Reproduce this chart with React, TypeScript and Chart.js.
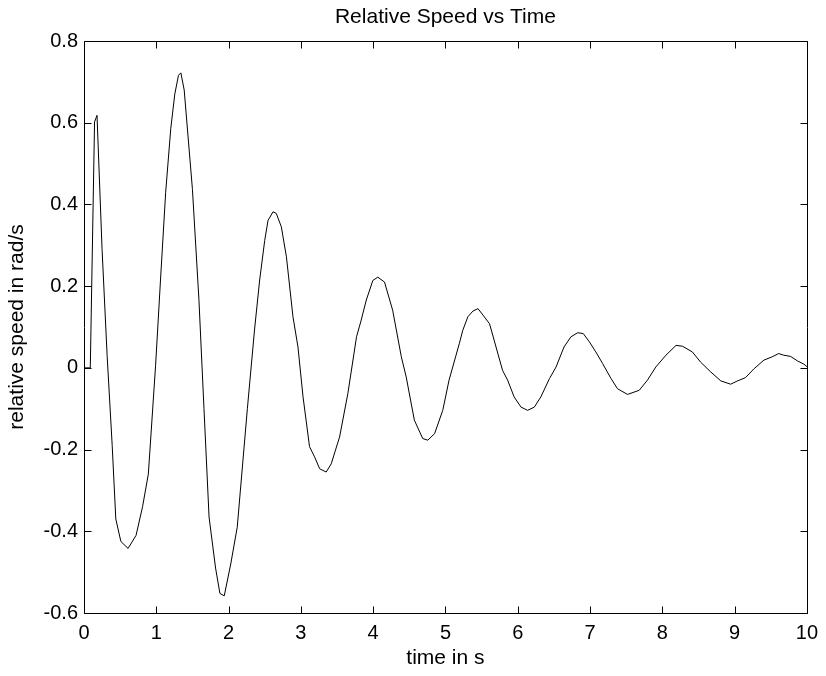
import React, { useEffect, useRef } from "react";
import { Chart, registerables } from "chart.js";

Chart.register(...registerables);

const titleText = "Relative Speed vs Time";
const xAxisTitle = "time in s";
const yAxisTitle = "relative speed in rad/s";

const xTickValues = [0, 1, 2, 3, 4, 5, 6, 7, 8, 9, 10];
const xTickLabels = ["0", "1", "2", "3", "4", "5", "6", "7", "8", "9", "10"];
const yTickValues = [-0.6, -0.4, -0.2, 0, 0.2, 0.4, 0.6, 0.8];
const yTickLabels = ["-0.6", "-0.4", "-0.2", "0", "0.2", "0.4", "0.6", "0.8"];

const time = [
  0, 0.087, 0.146, 0.18, 0.25, 0.32, 0.39, 0.44, 0.51, 0.61,
  0.72, 0.81, 0.89, 0.99, 1.06, 1.13, 1.2, 1.256, 1.307, 1.34,
  1.386, 1.5, 1.59, 1.66, 1.73, 1.82, 1.88, 1.94, 2.03, 2.12,
  2.26, 2.36, 2.43, 2.5, 2.546, 2.615, 2.66, 2.73, 2.8, 2.891,
  2.96, 3.03, 3.12, 3.19, 3.26, 3.35, 3.42, 3.536, 3.65, 3.77,
  3.835, 3.905, 3.996, 4.065, 4.157, 4.27, 4.39, 4.457, 4.57, 4.686,
  4.756, 4.85, 4.963, 5.05, 5.193, 5.24, 5.31, 5.38, 5.45, 5.52,
  5.61, 5.7, 5.79, 5.86, 5.95, 6.045, 6.137, 6.23, 6.32, 6.44,
  6.53, 6.64, 6.736, 6.83, 6.906, 6.99, 7.08, 7.173, 7.29, 7.38,
  7.518, 7.68, 7.795, 7.91, 8.05, 8.19, 8.278, 8.416, 8.53, 8.67,
  8.81, 8.945, 9.04, 9.15, 9.27, 9.406, 9.52, 9.61, 9.68, 9.775,
  9.87, 9.96, 10.0,
];

const speed = [
  0, 0, 0.602, 0.618, 0.29, 0.03, -0.19, -0.37, -0.425, -0.442,
  -0.41, -0.34, -0.26, 0.005, 0.22, 0.43, 0.585, 0.67, 0.716, 0.722,
  0.68, 0.437, 0.167, -0.1, -0.365, -0.49, -0.552, -0.558, -0.48, -0.39,
  -0.1, 0.095, 0.215, 0.312, 0.361, 0.382, 0.378, 0.345, 0.272, 0.125,
  0.051, -0.071, -0.193, -0.218, -0.247, -0.255, -0.235, -0.169, -0.063, 0.076,
  0.117, 0.166, 0.214, 0.222, 0.21, 0.141, 0.027, -0.022, -0.128, -0.173,
  -0.177, -0.161, -0.104, -0.03, 0.06, 0.092, 0.125, 0.139, 0.145, 0.129,
  0.108, 0.051, -0.006, -0.03, -0.071, -0.096, -0.104, -0.096, -0.071, -0.026,
  0.002, 0.051, 0.076, 0.086, 0.084, 0.064, 0.039, 0.011, -0.026, -0.051,
  -0.065, -0.055, -0.03, 0.002, 0.031, 0.055, 0.053, 0.039, 0.014, -0.01,
  -0.032, -0.04, -0.032, -0.024, -0.002, 0.019, 0.027, 0.035, 0.031, 0.028,
  0.017, 0.009, 0.003,
];

const FONT = "'Liberation Sans', Arial, Helvetica, sans-serif";
const TICK_SIZE = 20;
const LABEL_SIZE = 21;

const boxPlugin = {
  id: "matlabBox",
  afterDatasetsDraw(chart: any) {
    const { ctx, chartArea } = chart;
    const { left, right, top, bottom } = chartArea;
    const xs = chart.scales.x;
    const ys = chart.scales.y;
    const tl = 7;
    ctx.save();
    ctx.strokeStyle = "#000";
    ctx.lineWidth = 1;
    const L = Math.round(left) + 0.5;
    const R = Math.round(right) + 0.5;
    const T = Math.round(top) + 0.5;
    const B = Math.round(bottom) + 0.5;
    ctx.beginPath();
    ctx.rect(L, T, R - L, B - T);
    for (const v of xTickValues) {
      const px = Math.round(xs.getPixelForValue(v)) + 0.5;
      ctx.moveTo(px, B);
      ctx.lineTo(px, B - tl);
      ctx.moveTo(px, T);
      ctx.lineTo(px, T + tl);
    }
    for (const v of yTickValues) {
      const py = Math.round(ys.getPixelForValue(v)) + 0.5;
      ctx.moveTo(L, py);
      ctx.lineTo(L + tl, py);
      ctx.moveTo(R, py);
      ctx.lineTo(R - tl, py);
    }
    ctx.stroke();
    // title centred over the axes box
    ctx.fillStyle = "#000";
    ctx.font = `${LABEL_SIZE}px ${FONT}`;
    ctx.textAlign = "center";
    ctx.textBaseline = "middle";
    ctx.fillText(titleText, (left + right) / 2, 17);
    ctx.restore();
  },
};

export default function App() {
  const ref = useRef<HTMLCanvasElement | null>(null);

  useEffect(() => {
    if (!ref.current) return;
    const points = time.map((t, i) => ({ x: t, y: speed[i] }));
    const chart = new Chart(ref.current, {
      type: "line",
      data: {
        datasets: [
          {
            data: points,
            borderColor: "#000",
            borderWidth: 1,
            pointRadius: 0,
            tension: 0,
            fill: false,
          },
        ],
      },
      options: {
        animation: false,
        responsive: false,
        devicePixelRatio: 1,
        parsing: false as any,
        layout: { padding: { top: 41, right: 18, bottom: 0, left: 0 } },
        plugins: {
          legend: { display: false },
          tooltip: { enabled: false },
          title: { display: false },
        },
        scales: {
          x: {
            type: "linear",
            min: 0,
            max: 10,
            afterBuildTicks: (s: any) => {
              s.ticks = xTickValues.map((v) => ({ value: v }));
            },
            afterFit: (s: any) => {
              s.height = 63;
            },
            ticks: {
              autoSkip: false,
              maxRotation: 0,
              padding: 8,
              color: "#000",
              font: { family: FONT, size: TICK_SIZE },
              callback: (_v: any, i: number) => xTickLabels[i],
            },
            grid: { display: false, drawTicks: false },
            border: { display: false },
            title: {
              display: true,
              text: xAxisTitle,
              color: "#000",
              font: { family: FONT, size: LABEL_SIZE, lineHeight: 1.2 },
              padding: { top: 0, bottom: 5 },
            },
          },
          y: {
            type: "linear",
            min: -0.6,
            max: 0.8,
            afterBuildTicks: (s: any) => {
              s.ticks = yTickValues.map((v) => ({ value: v }));
            },
            afterFit: (s: any) => {
              s.width = 84;
            },
            ticks: {
              autoSkip: false,
              padding: 6,
              color: "#000",
              font: { family: FONT, size: TICK_SIZE },
              callback: (_v: any, i: number) => yTickLabels[i],
            },
            grid: { display: false, drawTicks: false },
            border: { display: false },
            title: {
              display: true,
              text: yAxisTitle,
              color: "#000",
              font: { family: FONT, size: LABEL_SIZE, lineHeight: 1.2 },
              padding: { top: 5, bottom: 0 },
            },
          },
        },
      },
      plugins: [boxPlugin],
    });
    return () => chart.destroy();
  }, []);

  return (
    <div style={{ position: "fixed", left: 0, top: 0, width: 826, height: 676, background: "#fff" }}>
      <canvas ref={ref} width={826} height={676} style={{ width: 826, height: 676 }} />
    </div>
  );
}
